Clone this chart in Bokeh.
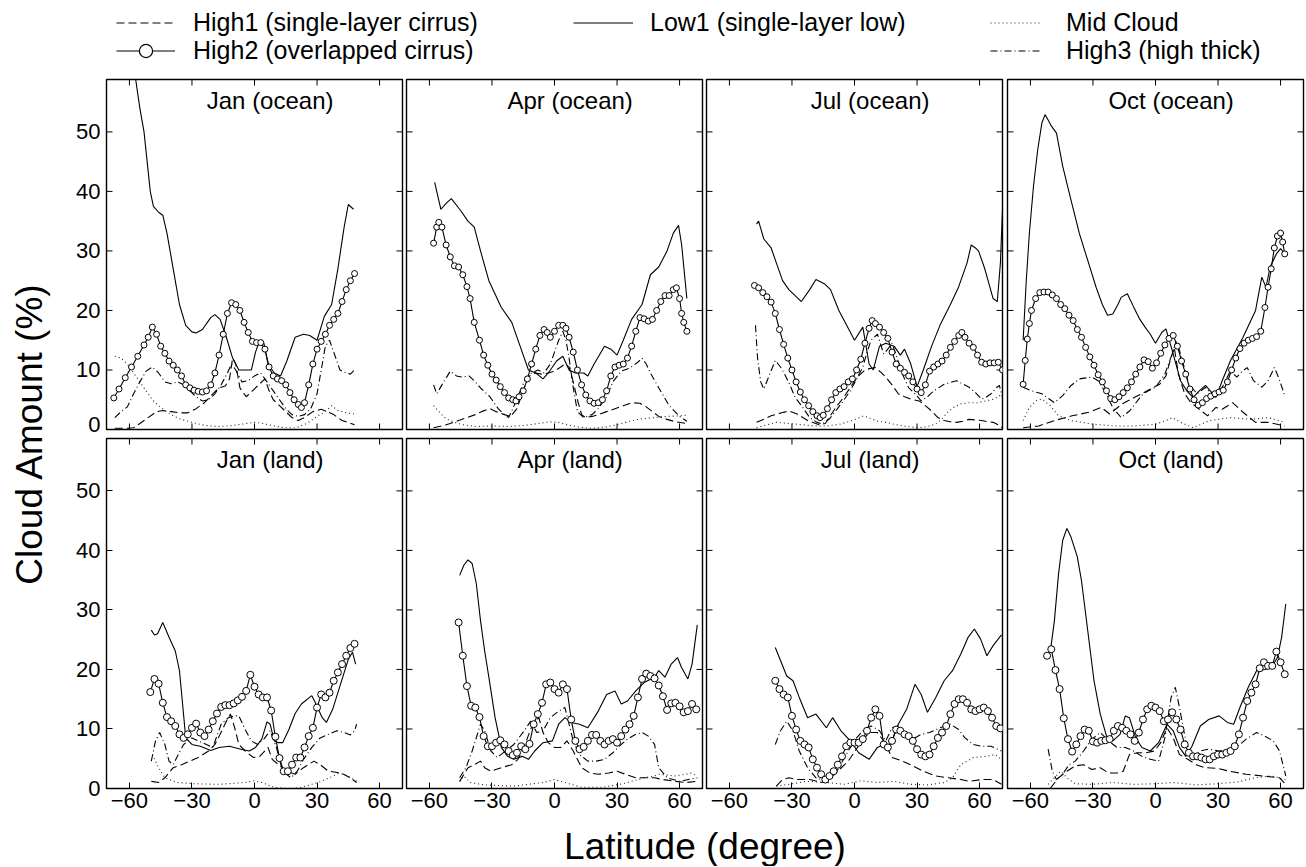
import math
from bokeh.plotting import figure
from bokeh.layouts import row, column
from bokeh.models import Range1d, FixedTicker, LinearAxis, Label, Legend, LegendItem
from bokeh.embed import file_html
from bokeh.resources import INLINE

FONT = "Liberation Sans"

X_TICKS = [-60, -30, 0, 30, 60]
Y_TICKS = [0, 10, 20, 30, 40, 50]
X_MIN, X_MAX = -71, 71
Y_MIN, Y_MAX = 0, 58.8
TITLES = ["Jan (ocean)", "Apr (ocean)", "Jul (ocean)", "Oct (ocean)",
          "Jan (land)", "Apr (land)", "Jul (land)", "Oct (land)"]
LEGEND_LABELS = ["High1 (single-layer cirrus)", "Low1 (single-layer low)", "Mid Cloud",
                 "High2 (overlapped cirrus)", "High3 (high thick)"]

# ---------------- Jan (ocean) ----------------
JAN_O_LOW1_LAT = [-57.5, -55, -53, -50, -48.5, -46, -44, -42, -39, -36, -33, -30, -28, -25, -21, -19, -16.5, -13.5, -10.5, -7.5, -1.5, 0.5, 2, 4.5, 6.5, 9.5, 12.5, 15.5, 19.5, 23.5, 26.5, 30, 33.5, 37, 40, 43, 45, 47.5]
JAN_O_LOW1 = [60, 54, 50, 40, 37.5, 36.5, 36, 33, 27, 21, 17.5, 16.4, 16.2, 16.8, 18.8, 19.3, 18.5, 15.5, 12, 10, 10, 13, 14.5, 14.5, 11, 9.5, 9, 11.5, 15.5, 16, 15.8, 15, 19, 21, 27, 34, 37.8, 37]
JAN_O_HIGH2_LAT = [-67.5, -65, -62, -59, -56, -53, -51, -49, -47, -45, -43, -41, -39, -37, -35, -33, -31, -29, -27, -25, -23, -21, -19, -17, -15, -13, -11, -9, -7, -5, -3, -1, 1, 3, 5, 7, 9, 11, 13, 15, 17, 19, 21, 22.5, 24, 26, 28, 30, 32, 34, 36, 38, 40, 42, 44, 46, 48]
JAN_O_HIGH2 = [5.3, 6.8, 8.7, 10.5, 12.3, 14.2, 15.5, 17.2, 16, 14, 12.8, 11.5, 10.8, 10, 9, 7.5, 7, 6.6, 6.4, 6.3, 6.5, 7.5, 9.5, 12.5, 16, 19.5, 21.3, 21, 20, 18, 16.3, 14.8, 14.6, 14.6, 13.5, 10.5, 9, 8.5, 8.2, 7.5, 6.2, 5, 4.2, 3.7, 4.5, 7.5, 11, 13.5, 14.8, 16, 17.5, 18.5, 19.5, 21.5, 23.5, 25, 26.2]
JAN_O_HIGH1_LAT = [-67, -62, -58, -55, -51, -47, -44, -40, -36, -32, -28, -24, -20, -17, -14, -12, -10.5, -9, -7, -4, -1, 2, 5, 7, 9, 12, 15, 18, 21, 24, 28, 32, 35, 38, 42, 45, 48]
JAN_O_HIGH1 = [0.2, 0.2, 0.3, 1, 2, 3, 3.2, 3, 2.8, 2.8, 3.5, 4.5, 6, 7, 7.3, 8.5, 12, 11, 7, 5.5, 6.5, 7.5, 8.5, 6.5, 5, 4, 3, 2, 1.5, 2, 3, 3.4, 3, 2.5, 1.5, 1.2, 0.8]
JAN_O_HIGH3_LAT = [-67, -64, -61, -58, -55, -52, -49, -46, -43, -40, -37, -34, -31, -28, -25, -22, -19, -16, -13, -11, -9, -6, -3, 0, 3, 6, 9, 12, 15, 18, 21, 24, 27, 30, 32, 34, 36, 38, 41, 44, 46, 48]
JAN_O_HIGH3 = [2, 3, 3.8, 6, 8, 9.8, 10.5, 9.5, 8, 7.7, 8, 7.5, 6.5, 5.5, 4.8, 5, 6, 7.5, 9.5, 11, 10, 8, 8.2, 9, 9.5, 8, 6.5, 5, 3.5, 2.5, 2.2, 2.5, 3.5, 6, 10, 14, 15, 13, 10, 9.5, 9.3, 10]
JAN_O_MID_LAT = [-67, -64, -61, -58, -55, -52, -49, -46, -43, -40, -36, -30, -24, -18, -12, -6, 0, 3, 8, 14, 20, 25, 30, 34, 37, 40, 44, 48]
JAN_O_MID = [12.3, 12, 11, 9.5, 8, 6.5, 5, 4, 3.2, 2.5, 1.8, 1.2, 0.7, 0.5, 0.6, 0.9, 1.2, 1.1, 0.7, 0.3, 0.3, 1, 2.2, 3, 4, 3.2, 2.8, 2.6]

# ---------------- Apr (ocean) ----------------
APR_O_LOW1_LAT = [-57.5, -54.5, -52, -49.5, -45.5, -41.5, -38.5, -35.5, -31.5, -25.5, -20.5, -16.5, -12.5, -9, -5.5, -3, 1, 4, 7, 10, 14, 16, 19, 24, 27, 30, 33, 37, 42, 46, 50, 54, 57, 59.5, 61, 63.5]
APR_O_LOW1 = [41.5, 37, 38, 38.8, 37, 35, 34, 30, 25, 20.5, 18, 14, 10, 9.5, 8.5, 9.5, 11.5, 12.3, 10, 9.5, 9.5, 9, 11, 14, 13.5, 12.5, 15, 18.5, 21, 26, 27.3, 30, 33, 34.3, 31, 22]
APR_O_HIGH2_LAT = [-58, -56.5, -55.5, -54, -52, -50, -48, -46, -44, -42, -40.5, -38.5, -36, -34, -32, -30, -28, -26, -24, -22, -20, -18.5, -17, -15, -13, -11, -9, -7, -5, -3.5, -2, 0, 2, 4, 5.5, 7, 9, 11, 13, 15, 17, 19, 21, 23, 25, 27, 29, 31, 33, 35, 37, 39, 41, 43, 45, 47, 49, 51, 53, 55, 57, 58.5, 60, 61, 62, 63.5]
APR_O_HIGH2 = [31.3, 34, 34.8, 34, 31, 29, 27.5, 27.3, 26, 24, 22, 18, 15, 12.5, 10.8, 9.3, 8.3, 7.2, 6.2, 5.3, 5, 4.8, 5.5, 6.5, 8.5, 11, 13.5, 15.8, 16.8, 16.3, 15.5, 16.5, 17.5, 17.5, 17, 15.5, 13, 10, 7.5, 5.8, 4.8, 4.4, 4.5, 5, 6.5, 9, 10.5, 10.8, 11, 12, 14, 16.5, 18.8, 18.6, 18.2, 18.5, 20, 21.5, 22.5, 22.5, 23.5, 23.8, 22, 19.5, 18, 16.5]
APR_O_HIGH1_LAT = [-58, -54, -50, -46, -42, -38, -35, -31, -28, -24, -21, -18, -16, -14, -12, -9, -6, -3, 0, 3, 5, 7, 9, 11, 13, 15, 18, 21, 25, 29, 33, 37, 41, 44, 47, 50, 54, 58, 63.5]
APR_O_HIGH1 = [0.3, 0.6, 1, 1.5, 2, 2.5, 3, 3.5, 3, 2.5, 2.2, 3.5, 5.5, 7.5, 9, 9.5, 9.3, 9.5, 9.8, 10.5, 11, 10.5, 8, 5, 2.5, 2, 2.2, 2.5, 3, 3.5, 4, 4.5, 4.4, 3.8, 3, 2.2, 1.7, 1.3, 1]
APR_O_HIGH3_LAT = [-58, -56.5, -54, -50, -47, -44, -41, -38, -35, -31, -27, -24, -22, -20, -17, -14, -11, -8, -5, -2, 0, 2, 4, 5.5, 7, 9, 11, 14, 18, 21, 25, 28, 32, 36, 40, 42, 44, 46, 50, 55, 60, 63.5]
APR_O_HIGH3 = [7.5, 6, 7.5, 9.8, 9, 8.8, 9, 8, 6.8, 5.5, 3.5, 2.5, 2, 3.5, 6, 8.5, 9.5, 10, 9.5, 11, 13, 15, 16.5, 15, 12, 7, 3, 2, 2.5, 3.5, 5.5, 8, 9.8, 10.3, 11.3, 12, 11, 9.5, 7, 4, 2.2, 1.4]
APR_O_MID_LAT = [-58, -55, -52, -48, -44, -38, -30, -22, -14, -8, -2, 2, 6, 12, 18, 24, 30, 36, 42, 48, 54, 60, 63.5]
APR_O_MID = [4, 2.8, 1.8, 1.2, 0.8, 0.5, 0.6, 0.5, 0.7, 1, 1.3, 1.2, 0.8, 0.4, 0.2, 0.4, 0.8, 1.4, 1.8, 2, 2.2, 2.3, 2.4]

# ---------------- Jul (ocean) ----------------
JUL_O_LOW1_LAT = [-47, -46, -43.5, -40, -37.5, -34.5, -31.5, -28.5, -25.5, -21.5, -18.5, -14.5, -11.5, -7.5, -3, 0, 4, 7, 9, 12, 15, 19, 22, 24, 27, 30, 33, 37, 41, 46, 50, 54, 56, 58, 59.5, 62.5, 66.5, 68.5, 70, 71]
JUL_O_LOW1 = [34.5, 35, 32, 30.5, 28, 25, 23.5, 22.5, 21.5, 23.5, 25.2, 24.5, 23.5, 20, 17, 15, 17.2, 11, 10, 14, 14.5, 14, 12.5, 13.5, 11, 7.2, 10, 14, 17.5, 21, 24, 28, 31, 30.5, 30, 27, 22, 21.5, 28, 37]
JUL_O_HIGH2_LAT = [-48, -46, -44, -42, -40, -38, -36, -34, -32, -30, -28, -26, -24, -22, -20, -18, -16.5, -15, -13, -11, -9, -7, -5, -3, -1, 1, 3, 5, 7, 8.5, 10, 12, 14, 16, 18, 20, 22, 24, 26, 28, 30, 32, 34, 36, 38, 40, 42, 44, 46, 48, 50, 51.5, 53, 55, 57, 59, 61, 63, 65, 67, 69, 71]
JUL_O_HIGH2 = [24.2, 23.8, 23, 22.3, 21.4, 19.5, 16.8, 14.3, 12, 10, 8, 6.3, 5, 4, 3, 2.3, 2, 2.4, 3.5, 5, 6.2, 6.8, 7.2, 8, 8.5, 10, 11.8, 14.5, 17, 18.3, 17.8, 17.2, 16.3, 15.3, 13, 11, 10.3, 9.6, 9, 8, 6.8, 6.2, 7.5, 9.8, 10.5, 11, 11.5, 12.5, 13.8, 14.8, 15.8, 16.3, 15.5, 14.5, 13.8, 12.5, 11.3, 11, 11.2, 11.2, 11.3, 10]
JUL_O_HIGH1_LAT = [-47, -43, -40, -35, -31.5, -27.5, -22.5, -17, -14, -9, -5, -1, 2, 5, 8, 10, 13, 15, 18, 21, 24, 27, 31, 34, 37, 40, 43, 46, 49, 52, 55, 58, 61, 64, 66.5, 69, 71]
JUL_O_HIGH1 = [1.2, 1.8, 2.3, 2.8, 3.1, 2.6, 1.5, 0.8, 1, 3.7, 5.5, 7.6, 9, 10, 10.3, 10.4, 9.5, 8.8, 7.5, 6, 5.5, 5.1, 4.8, 4, 3.1, 2, 1.5, 1.3, 1.2, 1.4, 1.7, 1.6, 1.5, 1.3, 1.2, 0.8, 0.3]
JUL_O_HIGH3_LAT = [-47.5, -46.5, -45, -43.5, -41, -38, -35.5, -33.5, -31, -28.5, -25, -21.5, -18, -15.5, -12, -9, -5, -2, 1, 4, 6, 8, 11, 14, 16, 18, 20, 23, 26, 29, 32, 35, 38, 43, 49, 55, 58, 61, 63, 65.5, 68, 69.5, 71]
JUL_O_HIGH3 = [17.5, 12, 8, 6.8, 9, 11.6, 10.5, 9.3, 7.5, 5.4, 3.8, 2, 1.2, 0.9, 1.8, 3.1, 5, 6.5, 8.5, 10.5, 13, 15, 16, 12.7, 13.5, 14.5, 12.5, 9.3, 7, 6, 4.8, 5.5, 6.5, 7.6, 8.2, 7.1, 6.2, 5.1, 5.4, 6, 7, 7.4, 5.4]
JUL_O_MID_LAT = [-47, -42, -37.5, -31.5, -25, -19, -13, -7, -3, 1, 4.5, 8, 11, 15, 20, 25, 31, 35, 39, 42, 45, 48, 51, 55, 59, 63, 67, 71]
JUL_O_MID = [0.3, 0.8, 1.2, 1, 0.8, 0.6, 0.6, 0.9, 1.3, 1.8, 2.3, 1.8, 1.4, 1.2, 0.8, 0.5, 0.3, 0.5, 0.9, 1.8, 3, 3.8, 4.3, 4.5, 4.5, 4.8, 5.1, 6]

# ---------------- Oct (ocean) ----------------
OCT_O_LOW1_LAT = [-63.5, -62, -60.5, -58.5, -56.5, -54.5, -53, -51.5, -50, -47.5, -44.5, -40.5, -36.5, -32.5, -28.5, -25.5, -23, -20.5, -18, -16.5, -13.5, -10.5, -7.5, -5, -2.5, 0, 3, 5, 8, 12, 15, 18, 21, 24, 27, 29, 32, 36, 42, 48, 51, 53, 55, 58, 60, 62]
OCT_O_LOW1 = [15, 25, 33, 41, 47, 51.5, 52.9, 52, 51, 49.8, 44.2, 38.5, 32.9, 28.4, 23.9, 21, 19.2, 19.4, 21, 22.2, 22.8, 20.6, 18.5, 17.2, 16, 14.5, 16.3, 16.9, 13.3, 8.2, 6.5, 5.4, 6.5, 7.4, 6.2, 5.4, 8.2, 11.6, 15.5, 20, 25.6, 23.9, 27.3, 29.5, 30.4, 29.5]
OCT_O_HIGH2_LAT = [-63.5, -62.5, -61.5, -60.5, -59.5, -57.5, -55.5, -53.5, -51.5, -49.5, -47.5, -45.5, -43.5, -41.5, -39.5, -37.5, -35.5, -33.5, -31.5, -29.5, -27.5, -25.5, -23.5, -21.5, -19.5, -17.5, -15.5, -13.5, -11.5, -9.5, -7.5, -5.5, -3.5, -1.5, 0.5, 2.5, 4.5, 6.5, 8.5, 10.5, 12.5, 14.5, 16.5, 18.5, 20.5, 22.5, 24.5, 26.5, 28.5, 30.5, 32.5, 34.5, 36.5, 38.5, 40.5, 42.5, 44.5, 46.5, 48.5, 50.5, 52.5, 54, 55.5, 57, 58.5, 60, 61, 62]
OCT_O_HIGH2 = [7.6, 11.6, 15.2, 17.8, 20, 22, 23, 23.1, 23.1, 22.6, 22, 21, 20.3, 19.2, 18.3, 16.8, 15.5, 13.8, 12.2, 10.8, 9.2, 8, 6.5, 5.2, 5, 5.5, 6.2, 7, 8, 9.3, 10.5, 11.7, 11.4, 10.3, 11.2, 12.8, 14.2, 15.3, 15.8, 14, 11.5, 9.3, 6.8, 5, 4.1, 4.5, 5.2, 5.6, 6, 6.3, 6.6, 8, 10, 12, 13.6, 14.5, 15, 15.3, 15.6, 16.5, 20.5, 23.9, 27, 30.5, 32.5, 33, 31.5, 29.5]
OCT_O_HIGH1_LAT = [-63.5, -56, -48.5, -40, -32, -26, -22, -16, -10, -4, 2, 5, 7, 9, 11, 14, 17, 20, 25, 29, 32, 37, 42, 48, 54, 62]
OCT_O_HIGH1 = [0.3, 0.6, 1.5, 2.3, 2.9, 3.7, 2.6, 4.3, 5.4, 6.5, 7.6, 9, 11.5, 13.8, 9.3, 6, 4.5, 3.7, 2.3, 3.7, 3.4, 4.5, 2.9, 1.2, 1.2, 0.6]
OCT_O_HIGH3_LAT = [-63.5, -59.5, -54.5, -48.5, -44.5, -40.5, -36.5, -30.5, -27.5, -24.5, -20.5, -16.5, -12.5, -6, 0, 4.5, 8, 10, 12, 16, 20, 24, 28, 32, 36, 39, 42, 44, 47, 51, 54, 57, 59, 62]
OCT_O_HIGH3 = [7.1, 6.5, 6, 4.5, 5.7, 7.4, 8.5, 8.8, 8.2, 6.5, 3.7, 2, 3.1, 6, 7.1, 9.3, 12.7, 14.9, 12.7, 7.6, 6, 7.1, 5.4, 7.1, 9.9, 8.8, 9.9, 10.4, 8.2, 7.1, 8.2, 10.4, 8.8, 5.7]
OCT_O_MID_LAT = [-63.5, -60.5, -57.5, -54.5, -50.5, -46.5, -40.5, -30, -20, -10, 0, 5, 8, 12, 18, 26, 36, 46, 54, 62]
OCT_O_MID = [1.5, 3.7, 4.8, 5.1, 4, 2.3, 1.5, 0.9, 0.6, 0.6, 0.9, 1.5, 2, 1.2, 0.3, 1.5, 2, 1.7, 2, 1.2]

# ---------------- Jan (land) ----------------
JAN_L_LOW1_LAT = [-49.5, -48, -46.5, -44, -41, -38, -36, -34.5, -33, -30, -26, -21, -17, -12, -6.5, -2.5, 0.5, 3.5, 6, 7.5, 9.5, 11.5, 13.5, 16.5, 19.5, 22.5, 27.5, 29.5, 32.5, 34.5, 37.5, 41.5, 45, 47, 48.5]
JAN_L_LOW1 = [26.6, 25.8, 26, 27.9, 25.4, 23.1, 19.8, 14.2, 8.5, 7.4, 7.1, 6.4, 6.9, 7.1, 6.6, 6.3, 6.9, 8.3, 11.2, 10.8, 8, 7.7, 7.7, 9.9, 12.6, 14.2, 15.6, 14.2, 11.9, 11.1, 13.3, 17.8, 21.7, 22.9, 20.9]
JAN_L_HIGH2_LAT = [-50, -48, -46, -44, -42, -40, -38, -36, -34, -32, -30, -28, -26, -24, -22, -20, -18, -16, -14, -12, -10, -8, -6, -4, -2, 0, 2, 4, 6, 8, 10, 12, 14, 16, 18, 20, 22, 24, 26, 28, 30, 32, 34, 36, 38, 40, 42, 44, 46, 48]
JAN_L_HIGH2 = [16.2, 18.4, 17.6, 14.4, 12, 11.3, 10.5, 9.1, 8.5, 9.1, 10.2, 10.9, 9.4, 8.8, 9.9, 11.3, 12.6, 13.7, 14, 14, 14.3, 14.8, 15.4, 16.4, 19.1, 17.1, 15.8, 15.3, 15.3, 13.1, 8.7, 5.1, 2.9, 2.9, 4, 5.2, 5.2, 6.9, 8.8, 10.2, 13.6, 15.8, 15.3, 16.1, 18.1, 19.5, 20.9, 22.3, 23.6, 24.3]
JAN_L_HIGH1_LAT = [-49.5, -46, -43, -39, -35, -31, -27, -22, -19, -16.5, -13.5, -11.5, -9.5, -7.5, -4.5, -0.5, 2.5, 6.5, 8.5, 11.5, 15.5, 19.5, 23.5, 28.5, 31.5, 35.5, 41.5, 46, 49]
JAN_L_HIGH1 = [1.2, 1, 1.8, 3.5, 4, 4.6, 5.2, 6.3, 7.4, 9.1, 11.3, 12.5, 10.2, 7.4, 6.3, 5.2, 5.4, 6.9, 4.9, 4, 2.9, 2.4, 3.5, 4.6, 4, 2.9, 2.6, 1.8, 1]
JAN_L_HIGH3_LAT = [-49.5, -47.5, -45.5, -43, -41, -39, -37, -34, -30, -25, -20, -16, -12.5, -9.5, -7.5, -4.5, -1.5, 1.5, 4.5, 7.5, 10.5, 13.5, 17.5, 20.5, 23.5, 27.5, 31.5, 35.5, 39.5, 43, 46, 48, 49]
JAN_L_HIGH3 = [4.6, 8, 9.4, 7.4, 4.6, 4, 5.4, 7.4, 8.5, 7.7, 6.9, 10.8, 11.9, 12.2, 12.2, 9.9, 8, 7.4, 8.3, 9.7, 6.9, 2.9, 1.8, 2.9, 4.9, 6.9, 8.5, 9.1, 9.7, 9.4, 9, 9.7, 10.8]
JAN_L_MID_LAT = [-49, -46, -43, -37, -29, -17, -4.5, -0.5, 3.5, 9.5, 15.5, 21.5, 27.5, 32, 36, 40, 43, 46, 49]
JAN_L_MID = [5.7, 3.5, 1.8, 1, 0.8, 0.7, 1, 1.3, 1, 0.2, 0, 0.1, 0.7, 1.2, 1.8, 2.5, 2.4, 1.8, 1.2]

# ---------------- Apr (land) ----------------
APR_L_LOW1_LAT = [-45.5, -43.5, -41.5, -39.5, -37.5, -35.5, -33.5, -31.5, -28.5, -25.5, -22.5, -19.5, -15.5, -12.5, -9.5, -5.5, -1, 2, 5, 8, 12, 16, 21, 25, 29, 32, 35, 39, 43, 48, 50, 53, 56, 59, 61, 64, 66, 68.5]
APR_L_LOW1 = [35.8, 37.5, 38.4, 37.8, 34.4, 28.2, 23.1, 18.7, 11.9, 6.9, 5.4, 4.9, 5.4, 4.9, 6.3, 7.7, 8, 10.8, 11.9, 11.1, 10.8, 10.2, 13, 15.8, 16.4, 14.2, 14.7, 16.4, 17.8, 18.7, 19.8, 18.7, 20.9, 22, 20.3, 18.4, 20.9, 27.5]
APR_L_HIGH2_LAT = [-46, -44, -42, -40, -38, -36, -34, -32, -30, -28, -26, -24, -22, -20, -18, -16, -14, -12, -10, -8, -6, -4, -2, 0, 2, 4, 6, 8, 10, 12, 14, 16, 18, 20, 22, 24, 26, 28, 30, 32, 34, 36, 38, 40, 42, 44, 46, 48, 50, 52, 54, 56, 58, 60, 62, 64, 66, 68]
APR_L_HIGH2 = [27.9, 22.3, 17.2, 13.9, 13.6, 12, 8.8, 7.1, 7.1, 7.7, 8.1, 7.4, 6.3, 5.6, 6, 7.1, 6.6, 7.5, 10.8, 12.5, 14.4, 17.5, 17.8, 16.7, 16.1, 17.5, 16.7, 11.6, 8, 6.6, 7, 8, 9, 9, 8, 7.4, 8, 8.3, 7.7, 8.8, 9.9, 10.8, 12.2, 15.3, 18.4, 19.3, 18.9, 18.5, 17.3, 15.5, 13.2, 14.3, 14.4, 13.8, 12.8, 13, 14.2, 13.3]
APR_L_HIGH1_LAT = [-45.5, -41.5, -38.5, -35.5, -33.5, -30.5, -25.5, -20.5, -17.5, -13.5, -10.5, -7.5, -5.5, -3, 0, 3, 6, 9, 13, 17, 21, 26, 30, 34, 39, 43, 48, 52, 58, 63, 68.5]
APR_L_HIGH1 = [1.2, 3.5, 4, 4.6, 3.5, 2.9, 3.5, 4, 4.9, 8, 10.8, 11.9, 9.4, 7.7, 6.9, 6.9, 8, 6.3, 3.5, 2.6, 2.4, 2.6, 2.9, 2.4, 1.8, 1.8, 1.8, 1.5, 1.2, 1, 1.2]
APR_L_HIGH3_LAT = [-45.5, -42.5, -39.5, -35.5, -33.5, -30.5, -27.5, -23.5, -19.5, -14.5, -11.5, -8.5, -5.5, -2, 2, 5, 7, 9, 12, 16, 20, 24, 28, 31, 35, 39, 42, 45, 48, 50, 54, 60, 68.5]
APR_L_HIGH3 = [1.8, 3.5, 6.3, 10.8, 9.7, 6.3, 5.2, 6.3, 7.4, 9.7, 11.3, 9.4, 9.7, 11.9, 13, 13.6, 10.8, 8, 5.7, 4.6, 4.6, 4.9, 6, 7.1, 8.3, 9.1, 9.4, 8.8, 7.4, 3.5, 1.8, 1.2, 1.8]
APR_L_MID_LAT = [-45.5, -43.5, -40.5, -33.5, -19.5, -5.5, 0, 5, 13, 23, 33, 43, 48, 50, 58, 66, 68.5]
APR_L_MID = [1.2, 2.1, 1, 0.6, 0.4, 1, 1.5, 1, 0.2, 0.2, 0.8, 1.8, 2.1, 2.4, 2.1, 2.6, 2.1]

# ---------------- Jul (land) ----------------
JUL_L_LOW1_LAT = [-38, -35.5, -32.5, -29.5, -26.5, -22.5, -18.5, -13.5, -10.5, -6.5, -2, 2, 7, 11, 14, 17, 21, 25, 29, 32, 35, 39, 43, 47, 51, 54.5, 57.5, 60.5, 63.5, 66.5, 70.5]
JUL_L_LOW1 = [23.7, 21.5, 18.9, 18.1, 15.3, 11.9, 12.5, 10.2, 11.9, 9.7, 8, 6, 4.9, 6.9, 7.4, 7.1, 10.8, 13.3, 17.5, 15.8, 12.8, 15.3, 18.1, 19.8, 22.6, 25.4, 26.8, 25.1, 22.3, 24, 25.8]
JUL_L_HIGH2_LAT = [-38, -36, -34, -32, -30, -28, -26, -24, -22, -20, -18, -16, -14, -12, -10, -8, -6, -4, -2, 0, 2, 4, 6, 8, 10, 12, 14, 16, 18, 20, 22, 24, 26, 28, 30, 32, 34, 36, 38, 40, 42, 44, 46, 48, 50, 52, 54, 56, 58, 60, 62, 64, 66, 68, 70]
JUL_L_HIGH2 = [18.1, 16.7, 15.8, 15.3, 12.2, 9.9, 8, 7.4, 6.9, 4.9, 3.5, 2.4, 1.5, 2.1, 2.9, 4, 5.4, 7.1, 7.7, 7.7, 7.7, 8.3, 9.7, 11.9, 13.3, 12.2, 7.4, 6.9, 8, 9.9, 9.7, 9.1, 8.8, 8, 6.6, 5.7, 5.4, 5.7, 7.1, 8.5, 9.4, 10.5, 12.5, 14.2, 15, 15, 14.4, 13.3, 13, 13.3, 13.6, 13, 11.9, 10.5, 10.1]
JUL_L_HIGH1_LAT = [-37.5, -34.5, -31.5, -27.5, -21.5, -15.5, -9.5, -3, 3, 7, 11, 14, 18, 23, 28, 33, 39, 45, 51, 55, 61, 66.5, 70.5]
JUL_L_HIGH1 = [0.4, 1.5, 1.8, 1.5, 1.5, 1, 2.4, 4.6, 7.7, 9.4, 9.4, 8, 5.2, 4.6, 3.8, 2.9, 2.1, 1.8, 1.5, 1.2, 1.5, 1.5, 0.7]
JUL_L_HIGH3_LAT = [-38, -35.5, -32.5, -29.5, -26.5, -22.5, -18.5, -13.5, -8.5, -3, 1, 4, 8, 12, 15, 18, 21, 24, 28, 32, 36, 41, 46, 50, 53, 57, 61, 65.5, 70.5]
JUL_L_HIGH3 = [7.4, 9.7, 11.3, 9.7, 6.3, 3.5, 1.8, 1.2, 2.9, 6.3, 8.5, 9.7, 10.5, 9.7, 8, 10.2, 10.5, 9.1, 8.3, 9.1, 9.4, 10.2, 10.8, 9.9, 8.5, 7.4, 7.1, 7.1, 6.3]
JUL_L_MID_LAT = [-37.5, -31.5, -23, -13, -5, 3, 11, 19, 27, 35, 43, 47, 51, 57, 63, 67.5, 70.5]
JUL_L_MID = [0.4, 0.7, 1.2, 1, 0.7, 1.3, 1, 1.2, 0.7, 0.6, 1, 1.8, 4, 5.2, 5.4, 5.7, 4.9]

# ---------------- Oct (land) ----------------
OCT_L_LOW1_LAT = [-50.5, -48.5, -46.5, -44.5, -42.5, -40.5, -37.5, -35.5, -32.5, -29.5, -26.5, -23.5, -20.5, -17, -14.5, -12.5, -9.5, -6.5, -2.5, 1.5, 5.5, 8.5, 11.5, 14.5, 17.5, 21.5, 25.5, 30.5, 34.5, 37.5, 40.5, 44.5, 48.5, 52.5, 55.5, 58.5, 60.5, 62.5]
OCT_L_LOW1 = [22.9, 28.2, 36.1, 41.7, 43.7, 42.2, 38.9, 34.9, 26.5, 18.1, 12.5, 8.8, 8, 9.1, 12.2, 11.9, 8.5, 6.9, 6.3, 7.7, 10.8, 9.7, 6.9, 5.4, 7.1, 10.5, 11.6, 12.2, 11.1, 10.8, 13.6, 17, 19.8, 20, 20.3, 22, 25.4, 31]
OCT_L_HIGH2_LAT = [-52, -50, -48, -46, -44, -42, -40, -38, -36, -34, -32, -30, -28, -26, -24, -22, -20, -18, -16, -14, -12, -10, -8, -6, -4, -2, 0, 2, 4, 6, 8, 10, 12, 14, 16, 18, 20, 22, 24, 26, 28, 30, 32, 34, 36, 38, 40, 42, 44, 46, 48, 50, 52, 54, 56, 58, 60, 62]
OCT_L_HIGH2 = [22.3, 23.4, 19.9, 16.7, 11.8, 8.3, 6.2, 7.4, 8.8, 9.9, 9.7, 7.9, 7.7, 8, 8.1, 8.3, 9.7, 10.5, 10.2, 9.7, 9.1, 8, 9.4, 11.6, 13.3, 13.9, 13.6, 13, 11.3, 11.6, 12.8, 11.6, 9.9, 7.4, 6, 5.4, 5.4, 5.2, 4.9, 4.9, 5.4, 5.7, 5.7, 6, 6.3, 7.1, 9.1, 11.9, 14.7, 16.1, 17.5, 20.2, 21.2, 20.6, 20.6, 23, 21.2, 19.2]
OCT_L_HIGH1_LAT = [-50.5, -46.5, -42.5, -38.5, -34.5, -30.5, -26.5, -22.5, -18.5, -15.5, -12.5, -8.5, -4.5, -0.5, 2.5, 5.5, 8.5, 11.5, 15.5, 19.5, 23.5, 29.5, 35.5, 43.5, 51.5, 59.5, 62.5]
OCT_L_HIGH1 = [0, 1.8, 2.9, 3.8, 4, 3.2, 3.5, 2.6, 2.6, 2.9, 5.7, 6, 6, 6.3, 7.7, 10.2, 8.5, 5.7, 4.9, 4, 3.5, 3.4, 2.9, 2.4, 2.1, 1.8, 0.7]
OCT_L_HIGH3_LAT = [-51.5, -49.5, -47.5, -44.5, -41.5, -38.5, -34.5, -30.5, -26.5, -22.5, -18.5, -14.5, -10.5, -6.5, -2.5, 1.5, 4.5, 7.5, 9.5, 11.5, 14.5, 17.5, 21.5, 25.5, 30.5, 35.5, 39.5, 43.5, 48.5, 52.5, 56.5, 59.5, 62.5]
OCT_L_HIGH3 = [6.6, 2.9, 1.5, 2.4, 4, 4.6, 6.3, 8.3, 9.4, 8, 6.9, 6.9, 6.3, 5.4, 4.9, 4.6, 8.5, 15.3, 17, 13.6, 8, 5.4, 6.3, 6.6, 6.3, 6.6, 7.1, 8.3, 9.4, 8.8, 8, 6.3, 2.1]
OCT_L_MID_LAT = [-51.5, -48.5, -45.5, -42.5, -38.5, -30.5, -20.5, -10.5, -0.5, 9.5, 19.5, 29.5, 39.5, 47.5, 55.5, 62.5]
OCT_L_MID = [0.7, 1.8, 2.9, 1.8, 0.8, 0.7, 1, 0.7, 0.8, 1, 0.6, 0.8, 1.1, 1.8, 2.1, 1.5]

PANEL_DATA = [
    dict(low1=(JAN_O_LOW1_LAT, JAN_O_LOW1), high2=(JAN_O_HIGH2_LAT, JAN_O_HIGH2), high1=(JAN_O_HIGH1_LAT, JAN_O_HIGH1), high3=(JAN_O_HIGH3_LAT, JAN_O_HIGH3), mid=(JAN_O_MID_LAT, JAN_O_MID)),
    dict(low1=(APR_O_LOW1_LAT, APR_O_LOW1), high2=(APR_O_HIGH2_LAT, APR_O_HIGH2), high1=(APR_O_HIGH1_LAT, APR_O_HIGH1), high3=(APR_O_HIGH3_LAT, APR_O_HIGH3), mid=(APR_O_MID_LAT, APR_O_MID)),
    dict(low1=(JUL_O_LOW1_LAT, JUL_O_LOW1), high2=(JUL_O_HIGH2_LAT, JUL_O_HIGH2), high1=(JUL_O_HIGH1_LAT, JUL_O_HIGH1), high3=(JUL_O_HIGH3_LAT, JUL_O_HIGH3), mid=(JUL_O_MID_LAT, JUL_O_MID)),
    dict(low1=(OCT_O_LOW1_LAT, OCT_O_LOW1), high2=(OCT_O_HIGH2_LAT, OCT_O_HIGH2), high1=(OCT_O_HIGH1_LAT, OCT_O_HIGH1), high3=(OCT_O_HIGH3_LAT, OCT_O_HIGH3), mid=(OCT_O_MID_LAT, OCT_O_MID)),
    dict(low1=(JAN_L_LOW1_LAT, JAN_L_LOW1), high2=(JAN_L_HIGH2_LAT, JAN_L_HIGH2), high1=(JAN_L_HIGH1_LAT, JAN_L_HIGH1), high3=(JAN_L_HIGH3_LAT, JAN_L_HIGH3), mid=(JAN_L_MID_LAT, JAN_L_MID)),
    dict(low1=(APR_L_LOW1_LAT, APR_L_LOW1), high2=(APR_L_HIGH2_LAT, APR_L_HIGH2), high1=(APR_L_HIGH1_LAT, APR_L_HIGH1), high3=(APR_L_HIGH3_LAT, APR_L_HIGH3), mid=(APR_L_MID_LAT, APR_L_MID)),
    dict(low1=(JUL_L_LOW1_LAT, JUL_L_LOW1), high2=(JUL_L_HIGH2_LAT, JUL_L_HIGH2), high1=(JUL_L_HIGH1_LAT, JUL_L_HIGH1), high3=(JUL_L_HIGH3_LAT, JUL_L_HIGH3), mid=(JUL_L_MID_LAT, JUL_L_MID)),
    dict(low1=(OCT_L_LOW1_LAT, OCT_L_LOW1), high2=(OCT_L_HIGH2_LAT, OCT_L_HIGH2), high1=(OCT_L_HIGH1_LAT, OCT_L_HIGH1), high3=(OCT_L_HIGH3_LAT, OCT_L_HIGH3), mid=(OCT_L_MID_LAT, OCT_L_MID)),
]

# ---------------- styles ----------------
S_LOW1 = dict(line_color="black", line_width=1.1)
S_HIGH1 = dict(line_color="black", line_width=1.1, line_dash="8 4")
S_MID = dict(line_color="#222222", line_width=1.1, line_dash="1 3")
S_HIGH3 = dict(line_color="black", line_width=1.1, line_dash="7 3 1 3")
S_HIGH2 = dict(line_color="black", line_width=1.1)

# ---------------- geometry (screen px) ----------------
FRAME_W = 296
FRAME_H = 350
YLAB_W = 54
LEFT0 = 52
LEFT_B = [LEFT0, 2, 2, 2]
RIGHT_B = [2, 2, 3, 2]
TOP_B = [2, 1]
BOT_B = [8, 30]
LEG_H = 77
XLAB_H = 48
TOTAL_W = YLAB_W + sum(LEFT_B) + sum(RIGHT_B) + 4 * FRAME_W
COL_H = (TOP_B[0] + FRAME_H + BOT_B[0]) + (TOP_B[1] + FRAME_H + BOT_B[1]) + XLAB_H
TITLE_Y = 55.3
# in the upper-left panel the "0" label is lifted slightly off its tick so it
# stays inside that panel's canvas (the lower panel starts just below)
ZERO_LABEL_Y = 0.9


def pair(xs, ys):
    n = min(len(xs), len(ys))
    return list(xs[:n]), list(ys[:n])


def labeled_axis(p, side, ticks, standoff, tick_in=6, overrides=None):
    ax = LinearAxis(ticker=FixedTicker(ticks=ticks), axis_line_color=None,
                    major_tick_in=tick_in, major_tick_out=0, major_tick_line_color="black",
                    major_tick_line_width=1, minor_tick_line_color=None,
                    major_label_text_font=FONT, major_label_text_font_size="22px",
                    major_label_text_color="black", major_label_standoff=standoff)
    if overrides:
        ax.major_label_overrides = overrides
    p.add_layout(ax, side)


def edge_ticks(p, side):
    # inward tick marks on an unlabeled side: a dash centred on the frame edge,
    # clipped by the frame so that only the inner half shows
    kw = dict(marker="dash", size=12, line_color="black", line_width=1)
    if side == "below":
        p.scatter(X_TICKS, [Y_MIN] * len(X_TICKS), angle=math.pi / 2, **kw)
    elif side == "above":
        p.scatter(X_TICKS, [Y_MAX] * len(X_TICKS), angle=math.pi / 2, **kw)
    elif side == "left":
        p.scatter([X_MIN] * len(Y_TICKS), Y_TICKS, **kw)
    else:
        p.scatter([X_MAX] * len(Y_TICKS), Y_TICKS, **kw)


def make_panel(idx):
    r_i, c_i = divmod(idx, 4)
    p = figure(frame_width=FRAME_W, frame_height=FRAME_H,
               x_range=Range1d(X_MIN, X_MAX), y_range=Range1d(Y_MIN, Y_MAX),
               x_axis_type=None, y_axis_type=None,
               toolbar_location=None, output_backend="svg")
    p.min_border_left = LEFT_B[c_i]
    p.min_border_right = RIGHT_B[c_i]
    p.min_border_top = TOP_B[r_i]
    p.min_border_bottom = BOT_B[r_i]
    p.outline_line_color = "black"
    p.outline_line_width = 1.4
    p.background_fill_color = "white"
    p.border_fill_color = "white"

    if c_i == 0 and r_i == 0:
        labeled_axis(p, "left", [ZERO_LABEL_Y] + Y_TICKS[1:], 6, tick_in=0,
                     overrides={ZERO_LABEL_Y: str(Y_TICKS[0])})
        edge_ticks(p, "left")
    elif c_i == 0:
        labeled_axis(p, "left", Y_TICKS, 6)
    else:
        edge_ticks(p, "left")
    if r_i == 1:
        labeled_axis(p, "below", X_TICKS, 4)
    else:
        edge_ticks(p, "below")
    edge_ticks(p, "above")
    edge_ticks(p, "right")

    d = PANEL_DATA[idx]
    x, y = pair(*d["mid"]); p.line(x, y, **S_MID)
    x, y = pair(*d["high3"]); p.line(x, y, **S_HIGH3)
    x, y = pair(*d["high1"]); p.line(x, y, **S_HIGH1)
    x, y = pair(*d["low1"]); p.line(x, y, **S_LOW1)
    x, y = pair(*d["high2"])
    p.line(x, y, **S_HIGH2)
    msize = 6 if r_i == 0 else 7
    p.scatter(x, y, marker="circle", size=msize, fill_color="white",
              line_color="black", line_width=1)

    p.add_layout(Label(x=7.5, y=TITLE_Y, text=TITLES[idx], text_align="center",
                       text_baseline="alphabetic", text_font=FONT,
                       text_font_size="24px", text_color="black"))
    return p


panels = [make_panel(i) for i in range(8)]

# ---------------- legend strip ----------------
leg_fig = figure(width=TOTAL_W, height=LEG_H, x_range=Range1d(0, 1), y_range=Range1d(0, 1),
                 x_axis_type=None, y_axis_type=None, toolbar_location=None,
                 output_backend="svg", min_border=0)
leg_fig.outline_line_color = None
# proxy renderers placed outside the visible range, only used for legend swatches
OFF = [5, 6]
r_h1 = leg_fig.line(OFF, OFF, **S_HIGH1)
r_l1 = leg_fig.line(OFF, OFF, **S_LOW1)
r_mid = leg_fig.line(OFF, OFF, **S_MID)
r_h2l = leg_fig.line(OFF, OFF, **S_HIGH2)
r_h2m = leg_fig.scatter(OFF, OFF, marker="circle", size=13, fill_color="white",
                        line_color="black", line_width=1.2)
r_h3 = leg_fig.line(OFF, OFF, **S_HIGH3)

GH = 33
ROW1_B = 38
ROW2_B = 10


def add_leg(label, renderers, x, yb, gw, standoff):
    leg = Legend(items=[LegendItem(label=label, renderers=renderers)],
                 location=(x, yb), glyph_width=gw, glyph_height=GH,
                 label_standoff=standoff, padding=0, margin=0, spacing=0,
                 border_line_color=None, background_fill_alpha=0,
                 label_text_font=FONT, label_text_font_size="25px",
                 label_text_color="black", label_height=20)
    leg_fig.add_layout(leg)


add_leg(LEGEND_LABELS[0], [r_h1], 116, ROW1_B, 59, 18)
add_leg(LEGEND_LABELS[1], [r_l1], 573, ROW1_B, 60, 17)
add_leg(LEGEND_LABELS[2], [r_mid], 990, ROW1_B, 50, 26)
add_leg(LEGEND_LABELS[3], [r_h2l, r_h2m], 116, ROW2_B, 59, 18)
add_leg(LEGEND_LABELS[4], [r_h3], 990, ROW2_B, 50, 26)

# ---------------- axis titles ----------------
ylab_fig = figure(width=YLAB_W, height=COL_H, x_range=Range1d(0, YLAB_W),
                  y_range=Range1d(COL_H, 0), x_axis_type=None, y_axis_type=None,
                  toolbar_location=None, output_backend="svg", min_border=0)
ylab_fig.outline_line_color = None
ylab_fig.add_layout(Label(x=29, y=433 - LEG_H, text="Cloud Amount (%)", angle=math.pi / 2,
                          text_align="center", text_baseline="alphabetic",
                          text_font=FONT, text_font_size="37px", text_color="black"))

XLAB_W = TOTAL_W - YLAB_W
xlab_fig = figure(width=XLAB_W, height=XLAB_H, x_range=Range1d(0, XLAB_W),
                  y_range=Range1d(XLAB_H, 0), x_axis_type=None, y_axis_type=None,
                  toolbar_location=None, output_backend="svg", min_border=0)
xlab_fig.outline_line_color = None
xlab_fig.add_layout(Label(x=704.5 - YLAB_W, y=27.5, text="Latitude (degree)", text_align="center",
                          text_baseline="alphabetic", text_font=FONT,
                          text_font_size="37px", text_color="black"))

top_row = row(*panels[:4], spacing=0)
bottom_row = row(*panels[4:], spacing=0)
right_col = column(top_row, bottom_row, xlab_fig, spacing=0)
layout = column(leg_fig, row(ylab_fig, right_col, spacing=0), spacing=0)

with open("out.html", "w") as f:
    f.write(file_html(layout, INLINE, title="Cloud Amount vs Latitude"))
